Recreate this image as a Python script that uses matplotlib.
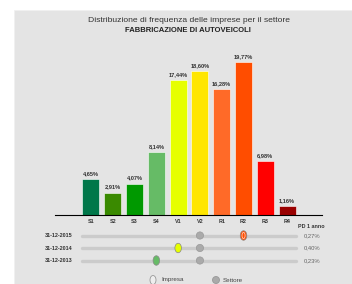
import matplotlib.pyplot as plt
from matplotlib.patches import Rectangle, Ellipse

plt.rcParams['font.family'] = ['Liberation Sans', 'DejaVu Sans']

# classi di rating e distribuzione (%)
classi = ['S1', 'S2', 'S3', 'S4', 'V1', 'V2', 'R1', 'R2', 'R3', 'R4']
freq = [4.65, 2.91, 4.07, 8.14, 17.44, 18.60, 16.28, 19.77, 6.98, 1.16]
colori = ['#00774a', '#3a8a00', '#009900', '#66bb66', '#e6ff00',
          '#ffe600', '#ff6a28', '#ff4d00', '#ff0000', '#990000']

# posizione impresa / settore per anno
date = ['31-12-2015', '31-12-2014', '31-12-2013']
impresa = ['R2', 'V1', 'S4']
settore = ['V2', 'V2', 'V2']
pd_anno = ['0,27%', '0,40%', '0,23%']

W, H = 352, 284
fig = plt.figure(figsize=(W / 100, H / 100), dpi=100)
fig.patch.set_facecolor('white')
fig.add_artist(Rectangle((14 / W, 0), 1, (H - 10) / H, transform=fig.transFigure,
                         facecolor='#e4e4e4', edgecolor='#f0f0f0', lw=0.5, zorder=-10))

fig.text(189 / W, 1 - 20 / H, 'Distribuzione di frequenza delle imprese per il settore',
         ha='center', va='center', fontsize=6.1, color='#333333')
fig.text(188 / W, 1 - 30 / H, 'FABBRICAZIONE DI AUTOVEICOLI',
         ha='center', va='center', fontsize=5.5, fontweight='bold', color='#222222')

# grafico a barre
xl = (-1.65, 10.6)
ax = fig.add_axes([55 / W, 1 - 215 / H, (322 - 55) / W, 170 / H])
ax.set_facecolor('none')
x = list(range(len(classi)))
ax.bar(x, freq, width=0.78, color=colori, edgecolor='white', linewidth=0.4)
for xi, v in zip(x, freq):
    ax.text(xi, v + 0.4, f'{v:.2f}%'.replace('.', ','), ha='center', va='bottom',
            fontsize=4.1, fontweight='bold', color='#333333')
ax.set_xlim(*xl)
ax.set_ylim(0, 22)
for s in ['top', 'right', 'left']:
    ax.spines[s].set_visible(False)
ax.spines['bottom'].set_linewidth(0.8)
ax.set_yticks([])
ax.set_xticks(x)
ax.set_xticklabels(classi, fontsize=3.9, fontweight='bold', color='#333333')
ax.tick_params(axis='x', length=0, pad=3)

# slider
sx = fig.add_axes([55 / W, 1 - 268 / H, (322 - 55) / W, 40 / H])
sx.set_facecolor('none')
sx.set_xlim(*xl)
sx.set_ylim(2.6, -0.6)
sx.axis('off')
for i in range(len(date)):
    sx.plot([-0.41, 9.4], [i, i], color='#cbcbcb', lw=2.4, solid_capstyle='round', zorder=1)
    sx.text(-0.85, i, date[i], ha='right', va='center', fontsize=3.9,
            fontweight='bold', color='#333333')
    sx.text(9.75, i, pd_anno[i], ha='left', va='center', fontsize=4.2, color='#666666')
    xs = classi.index(settore[i])
    sx.add_patch(Ellipse((xs, i), 0.33, 0.58, facecolor='#aaaaaa',
                         edgecolor='#999999', lw=0.5, zorder=2))
    ci = classi.index(impresa[i])
    sx.add_patch(Ellipse((ci, i), 0.3, 0.76, facecolor=colori[ci],
                         edgecolor='#888888', lw=0.5, zorder=3))
    if i == 0:
        sx.add_patch(Ellipse((ci, i), 0.14, 0.5, facecolor='none',
                             edgecolor='white', lw=0.4, zorder=4))
sx.text(9.5, -0.75, 'PD 1 anno', ha='left', va='center', fontsize=3.9,
        fontweight='bold', color='#333333')

# legenda
fig.add_artist(Ellipse((153 / W, 1 - 280 / H), 6 / W, 9 / H, transform=fig.transFigure,
                       facecolor='#eeeeee', edgecolor='#999999', lw=0.6))
fig.text(161 / W, 1 - 280 / H, 'Impresa', ha='left', va='center', fontsize=4.5, color='#444444')
fig.add_artist(Ellipse((216 / W, 1 - 280 / H), 7 / W, 7 / H, transform=fig.transFigure,
                       facecolor='#aaaaaa', edgecolor='#999999', lw=0.6))
fig.text(223 / W, 1 - 280 / H, 'Settore', ha='left', va='center', fontsize=4.5, color='#444444')

fig.savefig('out.png', dpi=100)
